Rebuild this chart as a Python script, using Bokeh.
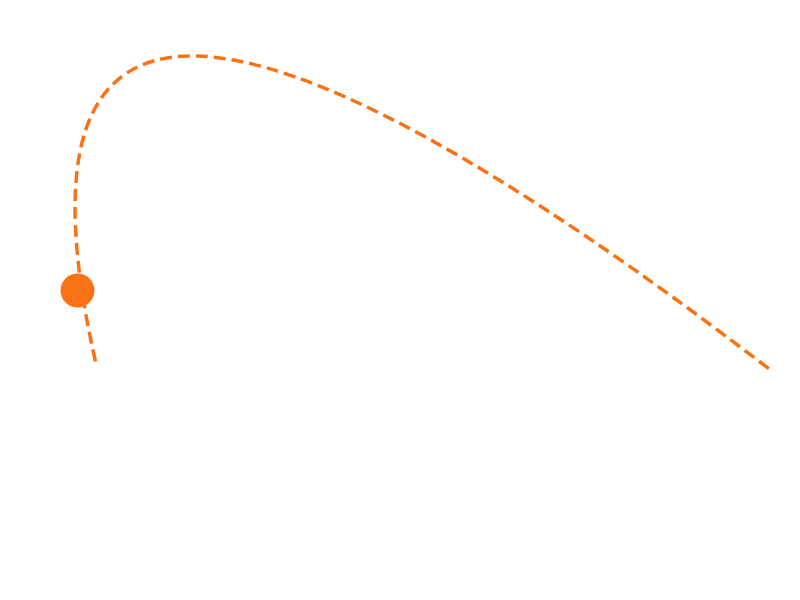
from bokeh.plotting import figure
from bokeh.models import Range1d
from bokeh.embed import file_html
from bokeh.resources import INLINE

# curve (page pixel coordinates)
curve_start = [95, 361]
curve_ctrl = [-45, -255]
curve_end = [772, 371]
marker_x = [77]
marker_y = [290]

orange = "#f97316"

p = figure(width=784, height=584, output_backend="svg", toolbar_location=None,
           x_axis_type=None, y_axis_type=None, min_border=0,
           x_range=Range1d(0, 784), y_range=Range1d(584, 0))
p.grid.visible = False
p.outline_line_color = None
p.background_fill_color = "white"
p.border_fill_color = "white"

p.quadratic(x0=[curve_start[0]], y0=[curve_start[1]],
            x1=[curve_end[0]], y1=[curve_end[1]],
            cx=[curve_ctrl[0]], cy=[curve_ctrl[1]],
            line_color=orange, line_width=3.5, line_dash="12 6")
p.scatter(marker_x, marker_y, size=34, fill_color=orange, line_color=None)

open("out.html", "w").write(file_html(p, INLINE))
